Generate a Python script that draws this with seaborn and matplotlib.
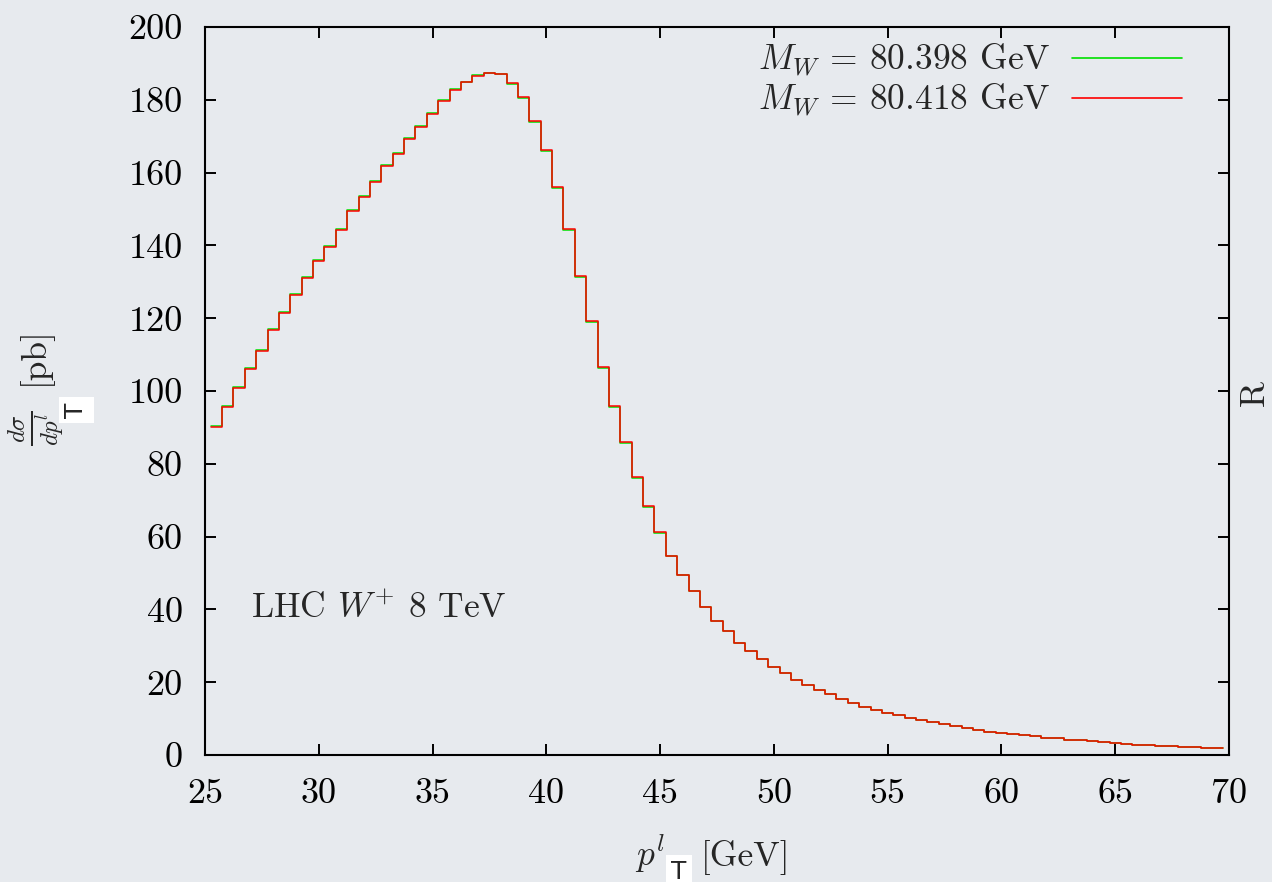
import numpy as np
import pandas as pd
import matplotlib
matplotlib.use("Agg")
import matplotlib.pyplot as plt
from matplotlib.lines import Line2D
import seaborn as sns

# Lepton transverse momentum bin centres [GeV] (0.5 GeV bins)
pt_centers = [
    25.5, 26.0, 26.5, 27.0, 27.5, 28.0, 28.5, 29.0, 29.5, 30.0,
    30.5, 31.0, 31.5, 32.0, 32.5, 33.0, 33.5, 34.0, 34.5, 35.0,
    35.5, 36.0, 36.5, 37.0, 37.5, 38.0, 38.5, 39.0, 39.5, 40.0,
    40.5, 41.0, 41.5, 42.0, 42.5, 43.0, 43.5, 44.0, 44.5, 45.0,
    45.5, 46.0, 46.5, 47.0, 47.5, 48.0, 48.5, 49.0, 49.5, 50.0,
    50.5, 51.0, 51.5, 52.0, 52.5, 53.0, 53.5, 54.0, 54.5, 55.0,
    55.5, 56.0, 56.5, 57.0, 57.5, 58.0, 58.5, 59.0, 59.5, 60.0,
    60.5, 61.0, 61.5, 62.0, 62.5, 63.0, 63.5, 64.0, 64.5, 65.0,
    65.5, 66.0, 66.5, 67.0, 67.5, 68.0, 68.5, 69.0, 69.5,
]

# d(sigma)/dpT [pb] for M_W = 80.398 GeV
sigma_mw_80398 = [
    90.5, 95.8, 101.2, 106.3, 111.3, 117.0, 121.6, 126.7, 131.4, 136.0,
    139.8, 144.5, 149.8, 153.7, 157.6, 162.2, 165.5, 169.4, 172.9, 176.4,
    179.9, 182.9, 185.0, 186.8, 187.5, 187.1, 184.3, 180.5, 173.8, 165.8,
    155.8, 144.1, 131.4, 119.0, 106.4, 95.5, 85.8, 76.2, 68.1, 61.0,
    54.7, 49.4, 45.0, 40.6, 36.9, 34.1, 30.9, 28.7, 26.4, 24.3,
    22.5, 20.7, 19.1, 17.9, 16.7, 15.5, 14.4, 13.3, 12.5, 11.6,
    11.1, 10.3, 9.6, 9.1, 8.5, 8.0, 7.5, 7.0, 6.4, 6.1,
    5.8, 5.4, 5.1, 4.8, 4.6, 4.2, 4.0, 3.8, 3.5, 3.2,
    3.0, 2.8, 2.7, 2.6, 2.5, 2.3, 2.2, 2.0, 1.9,
]

# d(sigma)/dpT [pb] for M_W = 80.418 GeV
sigma_mw_80418 = [
    90.2, 95.5, 100.9, 106.0, 111.0, 116.7, 121.3, 126.4, 131.1, 135.7,
    139.5, 144.2, 149.5, 153.4, 157.3, 161.9, 165.2, 169.1, 172.6, 176.1,
    179.6, 182.6, 184.8, 186.6, 187.4, 187.2, 184.5, 180.8, 174.1, 166.1,
    156.1, 144.4, 131.7, 119.3, 106.7, 95.8, 86.0, 76.4, 68.3, 61.2,
    54.8, 49.5, 45.1, 40.7, 36.9, 34.1, 30.9, 28.7, 26.4, 24.3,
    22.5, 20.7, 19.1, 17.9, 16.7, 15.5, 14.4, 13.3, 12.5, 11.6,
    11.1, 10.3, 9.6, 9.1, 8.5, 8.0, 7.5, 7.0, 6.4, 6.1,
    5.8, 5.4, 5.1, 4.8, 4.6, 4.2, 4.0, 3.8, 3.5, 3.2,
    3.0, 2.8, 2.7, 2.6, 2.5, 2.3, 2.2, 2.0, 1.9,
]

series_labels = [r"$M_W$ = 80.398 GeV", r"$M_W$ = 80.418 GeV"]
x_ticks = [25, 30, 35, 40, 45, 50, 55, 60, 65, 70]
y_ticks = [0, 20, 40, 60, 80, 100, 120, 140, 160, 180, 200]

BG = "#e7eaee"
GREEN = "#00e000"
RED = "#ff0000"
FS = 25.5

sns.set_style("ticks")
plt.rcParams.update({
    "font.family": "serif",
    "font.serif": ["cmr10"],
    "mathtext.fontset": "cm",
    "axes.formatter.use_mathtext": True,
    "axes.unicode_minus": False,
})

W, H = 1272, 882
fig = plt.figure(figsize=(W / 100, H / 100), dpi=100, facecolor=BG)
ax = fig.add_axes([205 / W, 1 - 755 / H, (1229 - 205) / W, (755 - 27) / H])
ax.set_facecolor(BG)

bin_width = 0.5
bin_range = (pt_centers[0] - bin_width / 2, pt_centers[-1] + bin_width / 2)

df = pd.DataFrame({
    "pt": pt_centers,
    "mw_80398": sigma_mw_80398,
    "mw_80418": sigma_mw_80418,
})

sns.histplot(data=df, x="pt", weights="mw_80398", binwidth=bin_width,
             binrange=bin_range, element="step", fill=False,
             color=GREEN, linewidth=1.1, ax=ax)
sns.histplot(data=df, x="pt", weights="mw_80418", binwidth=bin_width,
             binrange=bin_range, element="step", fill=False,
             color=RED, linewidth=1.1, ax=ax)

ax.set_xlim(25, 70)
ax.set_ylim(0, 200)
ax.set_xticks(x_ticks)
ax.set_yticks(y_ticks)
ax.set_xticklabels([str(t) for t in x_ticks])
ax.set_yticklabels([str(t) for t in y_ticks])
ax.set_xlabel("")
ax.set_ylabel("")

for side in ["left", "right", "top", "bottom"]:
    ax.spines[side].set_visible(True)
    ax.spines[side].set_linewidth(1.5)
    ax.spines[side].set_color("black")
ax.tick_params(axis="both", which="major", direction="in", length=8, width=1.4,
               top=True, right=True, labelsize=26, colors="black", pad=16)
ax.tick_params(axis="x", pad=17)

# Key
handles = [Line2D([0], [0], color=GREEN, lw=1.2),
           Line2D([0], [0], color=RED, lw=1.2)]
leg = ax.legend(handles, series_labels, loc="upper right",
                bbox_to_anchor=(1182 / W, 1 - 42 / H), bbox_transform=fig.transFigure,
                markerfirst=False, frameon=False, fontsize=FS,
                handlelength=3.1, handletextpad=0.6, labelspacing=0.07,
                borderpad=0, borderaxespad=0)

ax.text(27.0, 37.6, r"LHC $W^{+}$ 8 TeV", fontsize=FS, ha="left", va="baseline")

# Axis titles
fig.text(665 / W, 1 - 866 / H, r"$p^{l}$", fontsize=FS, ha="right", va="baseline")
fig.text(701 / W, 1 - 866 / H, "[GeV]", fontsize=FS, ha="left", va="baseline")
fig.text(679 / W, 1 - 872 / H, "T", fontsize=18, family="DejaVu Sans",
         ha="center", va="center",
         bbox=dict(facecolor="white", edgecolor="none", pad=4))

fig.text(34 / W, 1 - 356 / H, "[pb]", fontsize=FS, rotation=90, ha="center", va="center")
fig.text(36 / W, 1 - 428 / H, r"$\frac{d\sigma}{dp^{l}}$", fontsize=FS, rotation=90,
         ha="center", va="center")
fig.text(76 / W, 1 - 410 / H, "T", fontsize=18, family="DejaVu Sans", rotation=90,
         ha="center", va="center",
         bbox=dict(facecolor="white", edgecolor="none", pad=4))

fig.text(1255 / W, 1 - 393 / H, "R", fontsize=FS, rotation=90, ha="center", va="center")

fig.savefig("out.png", dpi=100, facecolor=BG)
